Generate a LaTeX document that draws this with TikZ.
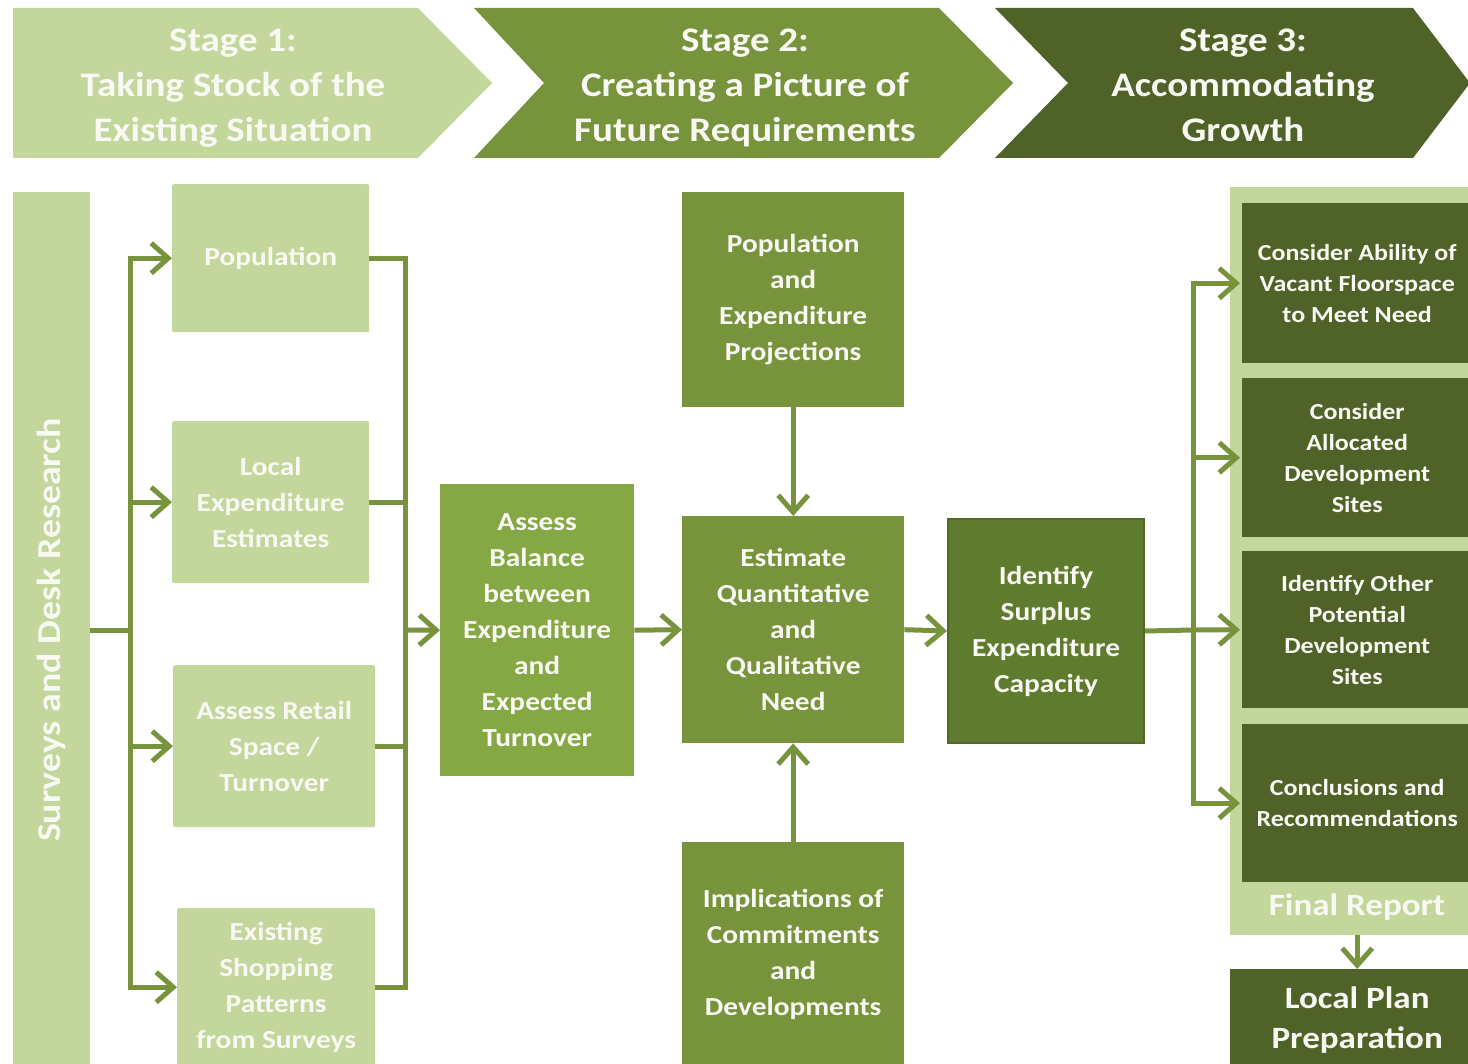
\documentclass[tikz,border=0pt]{standalone}
\usepackage{fontspec}
\setmainfont{Carlito}[FakeStretch=1.13]
\usetikzlibrary{arrows.meta}
\definecolor{cLight}{HTML}{C3D69B}
\definecolor{cMid}{HTML}{77933C}
\definecolor{cBright}{HTML}{86A844}
\definecolor{cSurp}{HTML}{5F7B2E}
\definecolor{cSurpB}{HTML}{4F6A26}
\definecolor{cDark}{HTML}{4F6228}
\definecolor{cText}{HTML}{F7F9F2}
\newcommand\myfs[2]{\fontsize{#1}{#2}\selectfont\bfseries}
\begin{document}
\begin{tikzpicture}[x=1pt,y=-1pt,
  boxbase/.style={anchor=north west, inner sep=0pt, align=center, text=cText},
  lbox/.style={boxbase, fill=cLight, rounded corners=2pt, font=\myfs{26}{36}},
  mbox/.style={boxbase, fill=cMid, font=\myfs{26}{36}},
  bbox/.style={boxbase, fill=cBright, font=\myfs{26}{36}},
  sbox/.style={boxbase, fill=cSurp, draw=cSurpB, line width=2pt, font=\myfs{26}{36}},
  dbox/.style={boxbase, fill=cDark, font=\myfs{23}{31}},
  chevtxt/.style={text=cText, align=center, font=\myfs{34.5}{45}},
  line/.style={draw=cMid, line width=5pt},
  arr/.style={line, -{Straight Barb[length=17pt,width=30pt]}},
]
\useasboundingbox (0,0) rectangle (1468,1064);

% header chevrons
\fill[cLight] (13,8) -- (418,8) -- (492,83) -- (418,158) -- (13,158) -- cycle;
\fill[cMid] (474,8) -- (939,8) -- (1013,83) -- (939,158) -- (474,158) -- (544,83) -- cycle;
\fill[cDark] (995,8) -- (1413,8) -- (1470,83) -- (1413,158) -- (995,158) -- (1068,83) -- cycle;
\node[chevtxt] (s1) at (233,88) {Stage 1:\\Taking Stock of the\\Existing Situation};
\node[chevtxt] (s2) at (745,88) {Stage 2:\\Creating a Picture of\\Future Requirements};
\node[chevtxt] (s3) at (1243,85) {Stage 3:\\Accommodating\\Growth};

% left bar
\node[fill=cLight, minimum width=77pt, minimum height=876pt, inner sep=0pt] (bar) at (51.5,630) {};
\node[rotate=90, text=cText, font=\myfs{33.5}{40}] (bartxt) at (bar.center) {Surveys and Desk Research};

% stage 1 boxes
\node[lbox, minimum width=197pt, minimum height=148pt] (pop) at (172,184) {Population};
\node[lbox, minimum width=197pt, minimum height=162pt] (loc) at (172,421) {Local\\Expenditure\\Estimates};
\node[lbox, minimum width=202pt, minimum height=162pt] (ret) at (173,665) {Assess Retail\\Space /\\Turnover};
\node[lbox, minimum width=198pt, minimum height=158pt] (exi) at (177,908) {Existing\\Shopping\\Patterns\\from Surveys};

% stage 2 boxes
\node[bbox, minimum width=194pt, minimum height=292pt] (bal) at (440,484) {Assess\\Balance\\between\\Expenditure\\and\\Expected\\Turnover};
\node[mbox, minimum width=222pt, minimum height=215pt] (proj) at (682,192) {Population\\and\\Expenditure\\Projections};
\node[mbox, minimum width=222pt, minimum height=227pt] (est) at (682,516) {Estimate\\Quantitative\\and\\Qualitative\\Need};
\node[mbox, minimum width=222pt, minimum height=224pt] (imp) at (682,842) {Implications of\\Commitments\\and\\Developments};
\node[sbox, minimum width=196pt, minimum height=224pt] (sur) at (947,518) {Identify\\Surplus\\Expenditure\\Capacity};

% stage 3
\node[boxbase, fill=cLight, minimum width=254pt, minimum height=748pt] (fin) at (1230,187) {};
\node[text=cText, font=\myfs{31}{36}] (fintxt) at (1357,907) {Final Report};
\node[dbox, minimum width=230pt, minimum height=160pt] (abl) at (1242,203) {Consider Ability of\\Vacant Floorspace\\to Meet Need};
\node[dbox, minimum width=230pt, minimum height=159pt] (all) at (1242,378) {Consider\\Allocated\\Development\\Sites};
\node[dbox, minimum width=230pt, minimum height=157pt] (oth) at (1242,551) {Identify Other\\Potential\\Development\\Sites};
\node[dbox, minimum width=230pt, minimum height=158pt] (con) at (1242,724) {Conclusions and\\Recommendations};
\node[boxbase, fill=cDark, minimum width=254pt, minimum height=101pt, font=\myfs{31}{40}] (lpp) at (1230,969) {Local Plan\\Preparation};

% connectors stage 1
\coordinate (tL) at (130,630);
\coordinate (tR) at (405,630);
\draw[line] (bar.east |- tL) -- (tL);
\draw[arr] (tL) |- (pop.west);
\draw[arr] (tL) |- (loc.west);
\draw[arr] (tL) |- (ret.west);
\draw[arr] (tL) |- (exi.west);
\draw[line] (pop.east) -| (tR);
\draw[line] (loc.east) -| (tR);
\draw[line] (ret.east) -| (tR);
\draw[line] (exi.east) -| (tR);
\draw[arr] (tR) -- (bal.west);

% stage 2 connectors
\draw[arr] (bal.east) -- (est.west);
\draw[arr] (proj.south) -- (est.north);
\draw[arr] (imp.north) -- (est.south);
\draw[arr] (est.east) -- (sur.west);

% stage 3 connectors
\coordinate (tS) at (1193,630);
\draw[line] (sur.east) -- (tS);
\draw[arr] (tS) |- ([xshift=-2pt]abl.west);
\draw[arr] (tS) |- ([xshift=-2pt]all.west);
\draw[arr] (tS) -- ([xshift=-2pt]oth.west);
\draw[arr] (tS) |- ([xshift=-2pt]con.west);
\draw[arr] (fin.south) -- (lpp.north);
\end{tikzpicture}
\end{document}
